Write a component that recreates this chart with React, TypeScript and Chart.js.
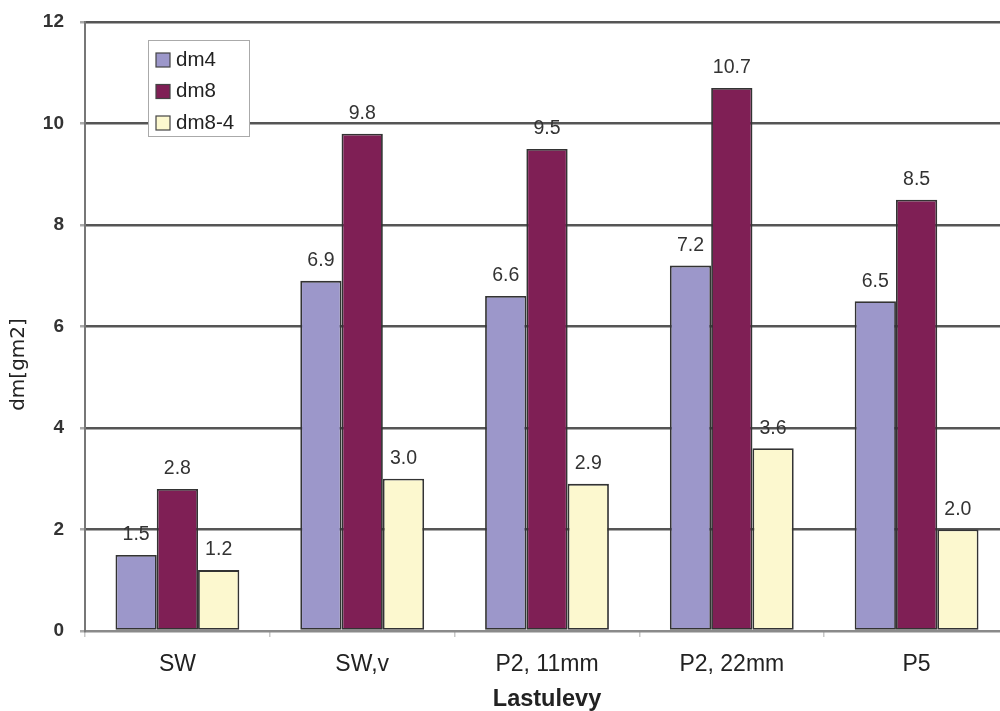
import React, { useEffect, useRef } from "react";
import { Chart, registerables } from "chart.js";

Chart.register(...registerables);

const categories = ["SW", "SW,v", "P2, 11mm", "P2, 22mm", "P5"];
const dm4 = [1.5, 6.9, 6.6, 7.2, 6.5];
const dm8 = [2.8, 9.8, 9.5, 10.7, 8.5];
const dm84 = [1.2, 3.0, 2.9, 3.6, 2.0];
const seriesNames = ["dm4", "dm8", "dm8-4"];
const seriesColors = ["#9c97ca", "#7f1f55", "#fcf8cf"];
const yTitle = "dm[gm2]";
const xTitle = "Lastulevy";

const FONT = "'Liberation Sans', Arial, sans-serif";

// value labels above each bar
const valueLabels = {
  id: "valueLabels",
  afterDatasetsDraw(chart: any) {
    const ctx = chart.ctx;
    ctx.save();
    ctx.font = `19.5px ${FONT}`;
    ctx.fillStyle = "#333";
    ctx.textAlign = "center";
    ctx.textBaseline = "middle";
    chart.data.datasets.forEach((ds: any, i: number) => {
      const meta = chart.getDatasetMeta(i);
      meta.data.forEach((bar: any, j: number) => {
        ctx.fillText(Number(ds.data[j]).toFixed(1), bar.x, bar.y - 20);
      });
    });
    ctx.restore();
  },
};

// boxed legend inside the plot, axis titles
const decorations = {
  id: "decorations",
  afterDraw(chart: any) {
    const ctx = chart.ctx;
    const a = chart.chartArea;
    ctx.save();
    // legend box
    const lx = a.left + 63;
    const ly = a.top + 18;
    const lw = 101;
    const lh = 96;
    ctx.fillStyle = "#fff";
    ctx.fillRect(lx, ly, lw, lh);
    ctx.strokeStyle = "#aaa";
    ctx.lineWidth = 1;
    ctx.strokeRect(lx + 0.5, ly + 0.5, lw, lh);
    ctx.font = `20.5px ${FONT}`;
    ctx.textBaseline = "middle";
    ctx.textAlign = "left";
    seriesNames.forEach((name, i) => {
      const cy = ly + 20 + i * 31.5;
      ctx.fillStyle = seriesColors[i];
      ctx.fillRect(lx + 8, cy - 7, 14, 14);
      ctx.strokeStyle = "#444";
      ctx.lineWidth = 1.2;
      ctx.strokeRect(lx + 8, cy - 7, 14, 14);
      ctx.fillStyle = "#222";
      ctx.fillText(name, lx + 28, cy);
    });
    // y title
    ctx.save();
    ctx.translate(19, (a.top + a.bottom) / 2 + 38);
    ctx.rotate(-Math.PI / 2);
    ctx.font = "20px 'DejaVu Sans', sans-serif";
    ctx.fillStyle = "#222";
    ctx.textAlign = "center";
    ctx.textBaseline = "middle";
    ctx.fillText(yTitle, 0, 0);
    ctx.restore();
    // x title
    ctx.font = `bold 23.5px ${FONT}`;
    ctx.fillStyle = "#222";
    ctx.textAlign = "center";
    ctx.textBaseline = "middle";
    ctx.fillText(xTitle, (a.left + a.right) / 2, 700);
    ctx.restore();
  },
};

export default function App() {
  const ref = useRef<HTMLCanvasElement | null>(null);

  useEffect(() => {
    document.body.style.margin = "0";
    const canvas = ref.current;
    if (!canvas) return;
    const chart = new Chart(canvas, {
      type: "bar",
      data: {
        labels: categories,
        datasets: [dm4, dm8, dm84].map((d, i) => ({
          label: seriesNames[i],
          data: d,
          backgroundColor: seriesColors[i],
          borderColor: "#333",
          borderWidth: 1.8,
          borderSkipped: false,
          categoryPercentage: 0.67,
          barPercentage: 1,
        })),
      },
      options: {
        responsive: false,
        animation: false,
        devicePixelRatio: 1,
        layout: { padding: { top: 22, left: 0, right: 0, bottom: 0 } },
        plugins: {
          legend: { display: false },
          tooltip: { enabled: false },
        },
        scales: {
          x: {
            afterFit: (s: any) => {
              s.height = 80;
            },
            grid: {
              display: true,
              drawOnChartArea: false,
              offset: true,
              tickLength: 6,
              color: "#c8c8c8",
              lineWidth: 1.5,
            },
            border: { display: true, color: "#8a8a8a", width: 2 },
            ticks: {
              font: { family: FONT, size: 23 },
              color: "#222",
              padding: 14,
              maxRotation: 0,
            },
          },
          y: {
            min: 0,
            max: 12,
            afterFit: (s: any) => {
              s.width = 85;
              s.paddingTop = 0;
              s.paddingBottom = 0;
            },
            grid: {
              color: (c: any) => (c.tick && c.tick.value === 0 ? "#8a8a8a" : "#555"),
              lineWidth: 2.5,
              tickLength: 5,
              tickColor: "#aaa",
            },
            border: { display: true, color: "#777", width: 2 },
            ticks: {
              stepSize: 2,
              font: { family: FONT, size: 19, weight: "bold" },
              color: "#333",
              padding: 16,
            },
          },
        },
      },
      plugins: [valueLabels, decorations],
    });
    return () => chart.destroy();
  }, []);

  return (
    <div style={{ position: "relative", width: 1000, height: 711, overflow: "hidden" }}>
      <canvas ref={ref} width={1009} height={711} style={{ display: "block" }} />
    </div>
  );
}
